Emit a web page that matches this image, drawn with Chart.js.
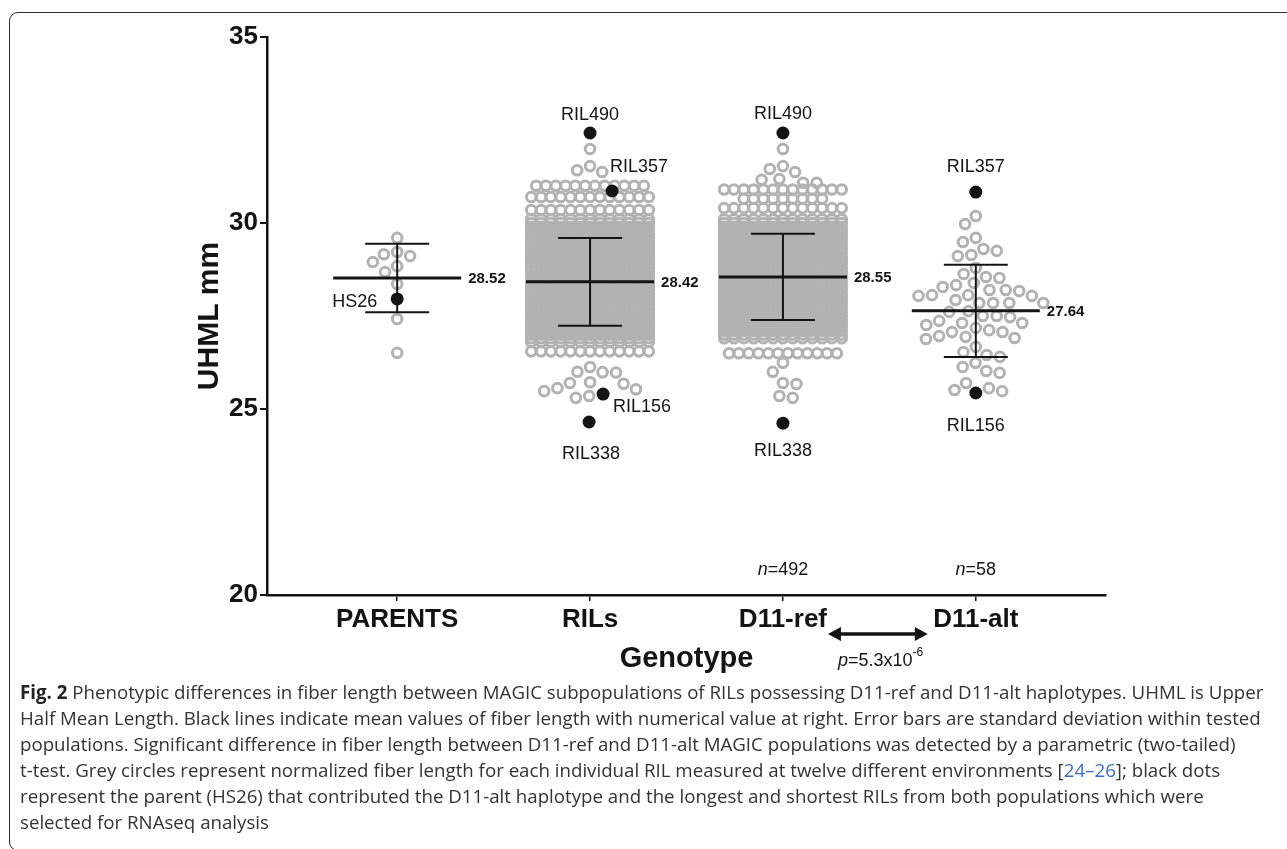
<!DOCTYPE html>
<html>
<head>
<meta charset="utf-8">
<script src="https://cdn.jsdelivr.net/npm/chart.js@4.4.1/dist/chart.umd.min.js"></script>
<style>
    html, body { margin: 0; padding: 0; background: #fff; width: 1287px; height: 849px; overflow: hidden; }
    #frame { position: absolute; left: 9px; top: 12px; width: 1400px; height: 839px; border: 1.5px solid #2b2b2b; border-radius: 9px; box-sizing: border-box; }
    #wrap { position: absolute; left: 0; top: 0; width: 1287px; height: 680px; }
    #caption { position: absolute; left: 20px; top: 679px; font-family: "Open Sans", sans-serif; font-size: 18.7px; line-height: 26px; color: #333; white-space: nowrap; }
    #caption b { color: #222; }
    #caption .ref { color: #3a6cc0; }
</style>
</head>
<body>
<div id="frame"></div>
<div id="wrap"><canvas id="uhmlChart" width="1287" height="680"></canvas></div>
<div id="caption">
<b>Fig. 2</b> Phenotypic differences in fiber length between MAGIC subpopulations of RILs possessing D11-ref and D11-alt haplotypes. UHML is Upper<br>
Half Mean Length. Black lines indicate mean values of fiber length with numerical value at right. Error bars are standard deviation within tested<br>
populations. Significant difference in fiber length between D11-ref and D11-alt MAGIC populations was detected by a parametric (two-tailed)<br>
t-test. Grey circles represent normalized fiber length for each individual RIL measured at twelve different environments [<span class="ref">24–26</span>]; black dots<br>
represent the parent (HS26) that contributed the D11-alt haplotype and the longest and shortest RILs from both populations which were<br>
selected for RNAseq analysis
</div>
<script>
// ---- data ----
const categories = ['PARENTS', 'RILs', 'D11-ref', 'D11-alt'];
const yTicks = [20, 25, 30, 35];
const groupMeans = [28.52, 28.42, 28.55, 27.64];
const groupSDs = [0.92, 1.18, 1.16, 1.24];
const groupN = ['', '', '492', '58'];

// grey circles that can be read one by one
const parentsValues = [29.60, 29.22, 29.16, 29.11, 28.95, 28.84, 28.68, 28.36, 27.42, 26.51];
const rilSparseValues = [31.99, 31.53, 31.42, 31.37, 26.13, 26.00, 25.99, 25.98, 25.72, 25.70, 25.68, 25.56, 25.53, 25.48, 25.35, 25.30];
const refSparseValues = [31.99, 31.53, 31.45, 31.37, 31.18, 31.16, 31.08, 31.08, 26.24, 26.00, 25.70, 25.67, 25.35, 25.30];
const altValues = [30.19, 29.97, 29.60, 29.49, 29.30, 29.25, 29.14, 29.11, 28.79, 28.63, 28.55, 28.52, 28.39, 28.33,
    28.28, 28.20, 28.20, 28.17, 28.06, 28.06, 28.04, 28.04, 27.93, 27.85, 27.85, 27.85, 27.85, 27.63, 27.61, 27.50,
    27.50, 27.47, 27.37, 27.31, 27.31, 27.26, 27.18, 27.12, 27.07, 27.07, 26.96, 26.94, 26.91, 26.88, 26.67, 26.53,
    26.45, 26.40, 26.24, 26.13, 26.02, 25.97, 25.70, 25.56, 25.51, 25.48];

// dense bands: row level and number of circles in that row
const rilRowLevels = [31.0, 30.7, 30.35, 30.1, 30.0, 29.9, 29.8, 29.7, 29.6, 29.5, 29.4, 29.3, 29.2, 29.1, 29.0, 28.9,
    28.8, 28.7, 28.6, 28.5, 28.4, 28.3, 28.2, 28.1, 28.0, 27.9, 27.8, 27.7, 27.6, 27.5, 27.4, 27.3, 27.2, 27.1, 27.0,
    26.9, 26.8, 26.55];
const rilRowCounts = [12, 13, 13, 13, 13, 13, 13, 13, 13, 13, 13, 13, 13, 13, 13, 13,
    13, 13, 13, 13, 13, 13, 13, 13, 13, 13, 13, 13, 13, 13, 13, 13, 13, 13, 13,
    13, 13, 13];
const refRowLevels = [30.9, 30.65, 30.4, 30.1, 30.0, 29.9, 29.8, 29.7, 29.6, 29.5, 29.4, 29.3, 29.2, 29.1, 29.0, 28.9,
    28.8, 28.7, 28.6, 28.5, 28.4, 28.3, 28.2, 28.1, 28.0, 27.9, 27.8, 27.7, 27.6, 27.5, 27.4, 27.3, 27.2, 27.1, 27.0,
    26.9, 26.5];
const refRowCounts = [13, 9, 13, 13, 13, 13, 13, 13, 13, 13, 13, 13, 13, 13, 13, 13,
    13, 13, 13, 13, 13, 13, 13, 13, 13, 13, 13, 13, 13, 13, 13, 13, 13, 13, 13,
    13, 12];

// black dots (parent and selected RILs)
const highlightGroup = [0, 1, 1, 1, 1, 2, 2, 3, 3];
const highlightValue = [27.96, 32.42, 30.86, 25.40, 24.65, 32.42, 24.62, 30.83, 25.43];
const highlightName = ['HS26', 'RIL490', 'RIL357', 'RIL156', 'RIL338', 'RIL490', 'RIL338', 'RIL357', 'RIL156'];

// ---- layout / style ----
const FONT = '"Liberation Sans", Arial, Helvetica, sans-serif';
const INK = '#141414';
const GREY = '#b2b2b2';
const X_MIN = -0.675, X_MAX = 3.675, Y_MIN = 20, Y_MAX = 35;
const plot = { left: 267, top: 37, right: 1106, bottom: 595 };
const canvasW = 1287, canvasH = 680, padBottom = 4, padLeft = 192;
const pxX = (plot.right - plot.left) / (X_MAX - X_MIN);
const pxY = (plot.bottom - plot.top) / (Y_MAX - Y_MIN);
const ROW_GAP = 9.8;      // px between circles in a row
const DOT_GAP = 13.5;     // px min distance in the swarm
const MEAN_HALF = 64 / pxX;
const CAP_HALF = 32 / pxX;
const highlightShiftPx = [0, 0, 22, 13, -1, 0, 0, 0, 0];
// label placement relative to the black dot: [dx, dy, align]
const labelPlace = [[-20, 3, 'right'], [0, -18, 'center'], [-2, -24, 'left'], [10, 13, 'left'], [2, 32, 'center'],
    [0, -19, 'center'], [0, 28, 'center'], [0, -25, 'center'], [0, 33, 'center']];
const nLabelValue = 20.67;

function swarm(values, obstacles) {
    const placed = obstacles.map(o => ({ x: o.x, y: o.v * pxY, d: 14 }));
    const order = values.map((v, i) => i).sort((a, b) => values[b] - values[a]);
    const out = new Array(values.length);
    order.forEach(i => {
        const yy = values[i] * pxY;
        const cands = [0];
        placed.forEach(p => {
            const dy = Math.abs(p.y - yy);
            if (dy < p.d) {
                const dx = Math.sqrt(p.d * p.d - dy * dy);
                cands.push(p.x - dx, p.x + dx);
            }
        });
        cands.sort((a, b) => Math.abs(a) - Math.abs(b));
        const x = cands.find(c => placed.every(p => (c - p.x) ** 2 + (yy - p.y) ** 2 >= p.d * p.d - 0.01));
        placed.push({ x: x, y: yy, d: DOT_GAP });
        out[i] = x;
    });
    return out;
}

const greyPoints = [];
function addSparse(group, values) {
    const obstacles = [];
    highlightGroup.forEach((g, k) => {
        if (g === group) obstacles.push({ x: highlightShiftPx[k], v: highlightValue[k] });
    });
    const offs = swarm(values, obstacles);
    values.forEach((v, i) => greyPoints.push({ x: group + offs[i] / pxX, y: v }));
}
function addRows(group, levels, counts) {
    levels.forEach((v, r) => {
        const n = counts[r];
        for (let k = 0; k < n; k++) {
            greyPoints.push({ x: group + (k - (n - 1) / 2) * ROW_GAP / pxX, y: v });
        }
    });
}
addSparse(0, parentsValues);
addRows(1, rilRowLevels, rilRowCounts);
addSparse(1, rilSparseValues);
addRows(2, refRowLevels, refRowCounts);
addSparse(2, refSparseValues);
addSparse(3, altValues);

const blackPoints = highlightValue.map((v, k) => ({ x: highlightGroup[k] + highlightShiftPx[k] / pxX, y: v }));

const meanSegs = [];
const barSegs = [];
groupMeans.forEach((m, i) => {
    const s = groupSDs[i];
    meanSegs.push({ x: i - MEAN_HALF, y: m }, { x: i + MEAN_HALF, y: m }, { x: i, y: null });
    barSegs.push({ x: i, y: m + s }, { x: i, y: m - s }, { x: i, y: null },
        { x: i - CAP_HALF, y: m + s }, { x: i + CAP_HALF, y: m + s }, { x: i, y: null },
        { x: i - CAP_HALF, y: m - s }, { x: i + CAP_HALF, y: m - s }, { x: i, y: null });
});

function drawRuns(ctx, runs, x, y, align) {
    let total = 0;
    runs.forEach(r => { ctx.font = r.font; r.w = ctx.measureText(r.text).width; total += r.w; });
    let cx = align === 'center' ? x - total / 2 : x;
    runs.forEach(r => {
        ctx.font = r.font;
        ctx.fillText(r.text, cx, y + (r.dy || 0));
        cx += r.w;
    });
}

const annotations = {
    id: 'annotations',
    afterDatasetsDraw(chart) {
        const { ctx, scales: { x, y } } = chart;
        ctx.save();
        ctx.fillStyle = INK;
        ctx.textBaseline = 'middle';

        // mean values
        ctx.font = 'bold 15px ' + FONT;
        ctx.textAlign = 'left';
        groupMeans.forEach((m, i) => {
            ctx.fillText(m.toFixed(2), x.getPixelForValue(i + MEAN_HALF) + 7, y.getPixelForValue(m) + 1);
        });

        // names of the black dots
        ctx.font = '18px ' + FONT;
        blackPoints.forEach((p, k) => {
            const [dx, dy, align] = labelPlace[k];
            ctx.textAlign = align;
            ctx.fillText(highlightName[k], x.getPixelForValue(p.x) + dx, y.getPixelForValue(p.y) + dy);
        });

        // n = ...
        ctx.textAlign = 'left';
        groupN.forEach((n, i) => {
            if (!n) return;
            drawRuns(ctx, [{ text: 'n', font: 'italic 18px ' + FONT }, { text: '=' + n, font: '18px ' + FONT }],
                x.getPixelForValue(i), y.getPixelForValue(nLabelValue), 'center');
        });

        // double arrow between D11-ref and D11-alt, with p value
        const ay = plot.bottom + 39;
        const ax1 = x.getPixelForValue(2) + 45;
        const ax2 = x.getPixelForValue(3) - 48;
        ctx.strokeStyle = INK;
        ctx.lineWidth = 3.5;
        ctx.beginPath();
        ctx.moveTo(ax1 + 8, ay);
        ctx.lineTo(ax2 - 8, ay);
        ctx.stroke();
        ctx.beginPath();
        ctx.moveTo(ax1, ay); ctx.lineTo(ax1 + 13, ay - 7); ctx.lineTo(ax1 + 13, ay + 7); ctx.closePath();
        ctx.moveTo(ax2, ay); ctx.lineTo(ax2 - 13, ay - 7); ctx.lineTo(ax2 - 13, ay + 7); ctx.closePath();
        ctx.fill();
        drawRuns(ctx, [
            { text: 'p', font: 'italic 18px ' + FONT },
            { text: '=5.3x10', font: '18px ' + FONT },
            { text: '-6', font: '12px ' + FONT, dy: -8 }
        ], ax1 + 10, plot.bottom + 66, 'left');
        ctx.restore();
    }
};

const ctx = document.getElementById('uhmlChart').getContext('2d');
const uhmlChart = new Chart(ctx, {
    type: 'scatter',
    data: {
        datasets: [
            {
                data: blackPoints, order: 0,
                pointRadius: 6.5, pointBackgroundColor: INK, pointBorderColor: INK, pointBorderWidth: 0
            },
            {
                data: meanSegs, order: 1, showLine: true, spanGaps: false, pointRadius: 0,
                borderColor: INK, borderWidth: 3
            },
            {
                data: barSegs, order: 1, showLine: true, spanGaps: false, pointRadius: 0,
                borderColor: INK, borderWidth: 2
            },
            {
                data: greyPoints, order: 2,
                pointRadius: 4.8, pointBackgroundColor: 'rgba(0,0,0,0)', pointBorderColor: GREY, pointBorderWidth: 3
            }
        ]
    },
    options: {
        responsive: false,
        animation: false,
        layout: { padding: { left: padLeft, top: plot.top, right: canvasW - plot.right, bottom: padBottom } },
        plugins: { legend: { display: false }, tooltip: { enabled: false } },
        scales: {
            x: {
                type: 'linear', min: X_MIN, max: X_MAX,
                afterBuildTicks: s => { s.ticks = categories.map((c, i) => ({ value: i })); },
                afterFit: s => { s.height = canvasH - padBottom - plot.bottom; },
                ticks: {
                    callback: v => categories[v], color: INK, padding: 3, maxRotation: 0, autoSkip: false,
                    font: { family: FONT, size: 26, weight: 'bold' }
                },
                grid: { drawOnChartArea: false, drawTicks: true, tickLength: 6, color: INK, lineWidth: 1.5 },
                border: { display: true, color: INK, width: 2.5 },
                title: {
                    display: true, text: 'Genotype', color: INK, padding: { top: 0, bottom: 0 },
                    font: { family: FONT, size: 29, weight: 'bold' }
                }
            },
            y: {
                min: Y_MIN, max: Y_MAX,
                afterBuildTicks: s => { s.ticks = yTicks.map(v => ({ value: v })); },
                afterFit: s => { s.width = plot.left - padLeft; },
                ticks: { color: INK, padding: 2, font: { family: FONT, size: 26, weight: 'bold' } },
                grid: { drawOnChartArea: false, drawTicks: true, tickLength: 7, color: INK, lineWidth: 2 },
                border: { display: true, color: INK, width: 2.5 },
                title: {
                    display: true, text: 'UHML mm', color: INK, padding: { top: 0, bottom: 0 },
                    font: { family: FONT, size: 30, weight: 'bold' }
                }
            }
        }
    },
    plugins: [annotations]
});
</script>
</body>
</html>
